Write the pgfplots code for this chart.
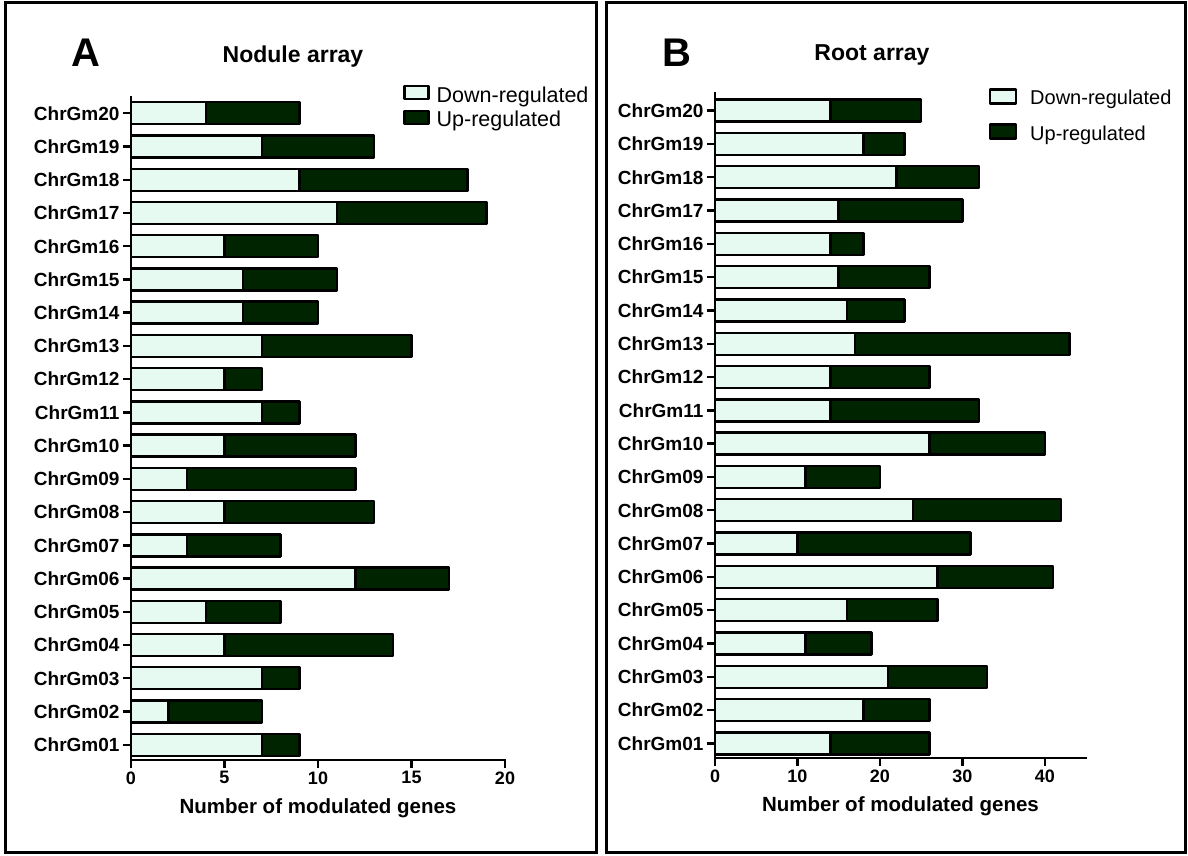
\documentclass[border=0pt]{standalone}
\usepackage{fontspec}
\setmainfont{Liberation Sans}
\usepackage{pgfplots}
\usepackage{pgfplotstable}
\pgfplotsset{compat=1.18}
\definecolor{downc}{RGB}{230,250,241}
\definecolor{upc}{RGB}{0,36,0}

\pgfplotstableread{
chr down up
1 7 2
2 2 5
3 7 2
4 5 9
5 4 4
6 12 5
7 3 5
8 5 8
9 3 9
10 5 7
11 7 2
12 5 2
13 7 8
14 6 4
15 6 5
16 5 5
17 11 8
18 9 9
19 7 6
20 4 5
}\nodule

\pgfplotstableread{
chr down up
1 14 12
2 18 8
3 21 12
4 11 8
5 16 11
6 27 14
7 10 21
8 24 18
9 11 9
10 26 14
11 14 18
12 14 12
13 17 26
14 16 7
15 15 11
16 14 4
17 15 15
18 22 10
19 18 5
20 14 11
}\root

\pgfplotsset{
 chr/.style={
  scale only axis, anchor=south west,
  xbar stacked, bar width=22pt,
  axis x line*=bottom, axis y line*=left,
  axis line style={line width=2.4pt, line cap=rect},
  every tick/.style={black, line width=2.4pt},
  major tick length=8pt, tick align=outside,
  ytick={1,...,20},
  yticklabels={ChrGm01,ChrGm02,ChrGm03,ChrGm04,ChrGm05,ChrGm06,ChrGm07,ChrGm08,ChrGm09,ChrGm10,ChrGm11,ChrGm12,ChrGm13,ChrGm14,ChrGm15,ChrGm16,ChrGm17,ChrGm18,ChrGm19,ChrGm20},
  yticklabel style={font=\fontsize{19}{22}\selectfont\bfseries},
  xticklabel style={font=\fontsize{18}{21}\selectfont\bfseries},
  /pgf/number format/assume math mode=true,
  xlabel={Number of modulated genes},
  xlabel style={font=\fontsize{20.5}{24}\selectfont\bfseries, at={(0.5,-0.072)}, anchor=center},
  legend cell align=left,
 },
 bars/.style={draw=black, line width=2.4pt, line join=round},
}

\begin{document}
\begin{tikzpicture}[x=1pt,y=1pt]
\useasboundingbox (0,0) rectangle (1188,855);
\draw[line width=3pt] (5,3) rectangle (596,852);
\draw[line width=3pt] (606,3) rectangle (1185,852);

\node[font=\fontsize{40}{44}\selectfont\bfseries] at (86,802) {A};
\node[font=\fontsize{23}{26}\selectfont\bfseries] at (293,798) {Nodule array};
\node[font=\fontsize{40}{44}\selectfont\bfseries] at (677,802) {B};
\node[font=\fontsize{23}{26}\selectfont\bfseries] at (872,800) {Root array};

\begin{axis}[chr, at={(131pt,95pt)}, width=374pt, height=663pt,
  xmin=0, xmax=20, ymin=0.54, ymax=20.49, xtick={0,5,...,20},
  legend image code/.code={\draw[#1, line width=2.4pt] (0pt,-4pt) rectangle (24pt,9pt); \path[draw=none,fill=none] (0pt,0pt) -- (30pt,0pt);},
  legend style={at={(0.72,1.022)}, anchor=north west, draw=none, fill=none,
    font=\fontsize{21.5}{24}\selectfont, row sep=3.5pt}]
\addplot[bars, fill=downc] table[x=down, y=chr] {\nodule};
\addlegendentry{Down-regulated}
\addplot[bars, fill=upc] table[x=up, y=chr] {\nodule};
\addlegendentry{Up-regulated}
\end{axis}

\begin{axis}[chr, at={(715pt,97pt)}, width=371pt, height=665pt,
  xmin=0, xmax=45, ymin=0.56, ymax=20.53, xtick={0,10,...,40},
  legend image code/.code={\draw[#1, line width=2.4pt] (0pt,-5pt) rectangle (26pt,9pt); \path[draw=none,fill=none] (0pt,0pt) -- (38pt,0pt);},
  legend style={at={(0.73,1.0105)}, anchor=north west, draw=none, fill=none,
    font=\fontsize{20}{23}\selectfont, row sep=15pt}]
\addplot[bars, fill=downc] table[x=down, y=chr] {\root};
\addlegendentry{Down-regulated}
\addplot[bars, fill=upc] table[x=up, y=chr] {\root};
\addlegendentry{Up-regulated}
\end{axis}
\end{tikzpicture}
\end{document}
